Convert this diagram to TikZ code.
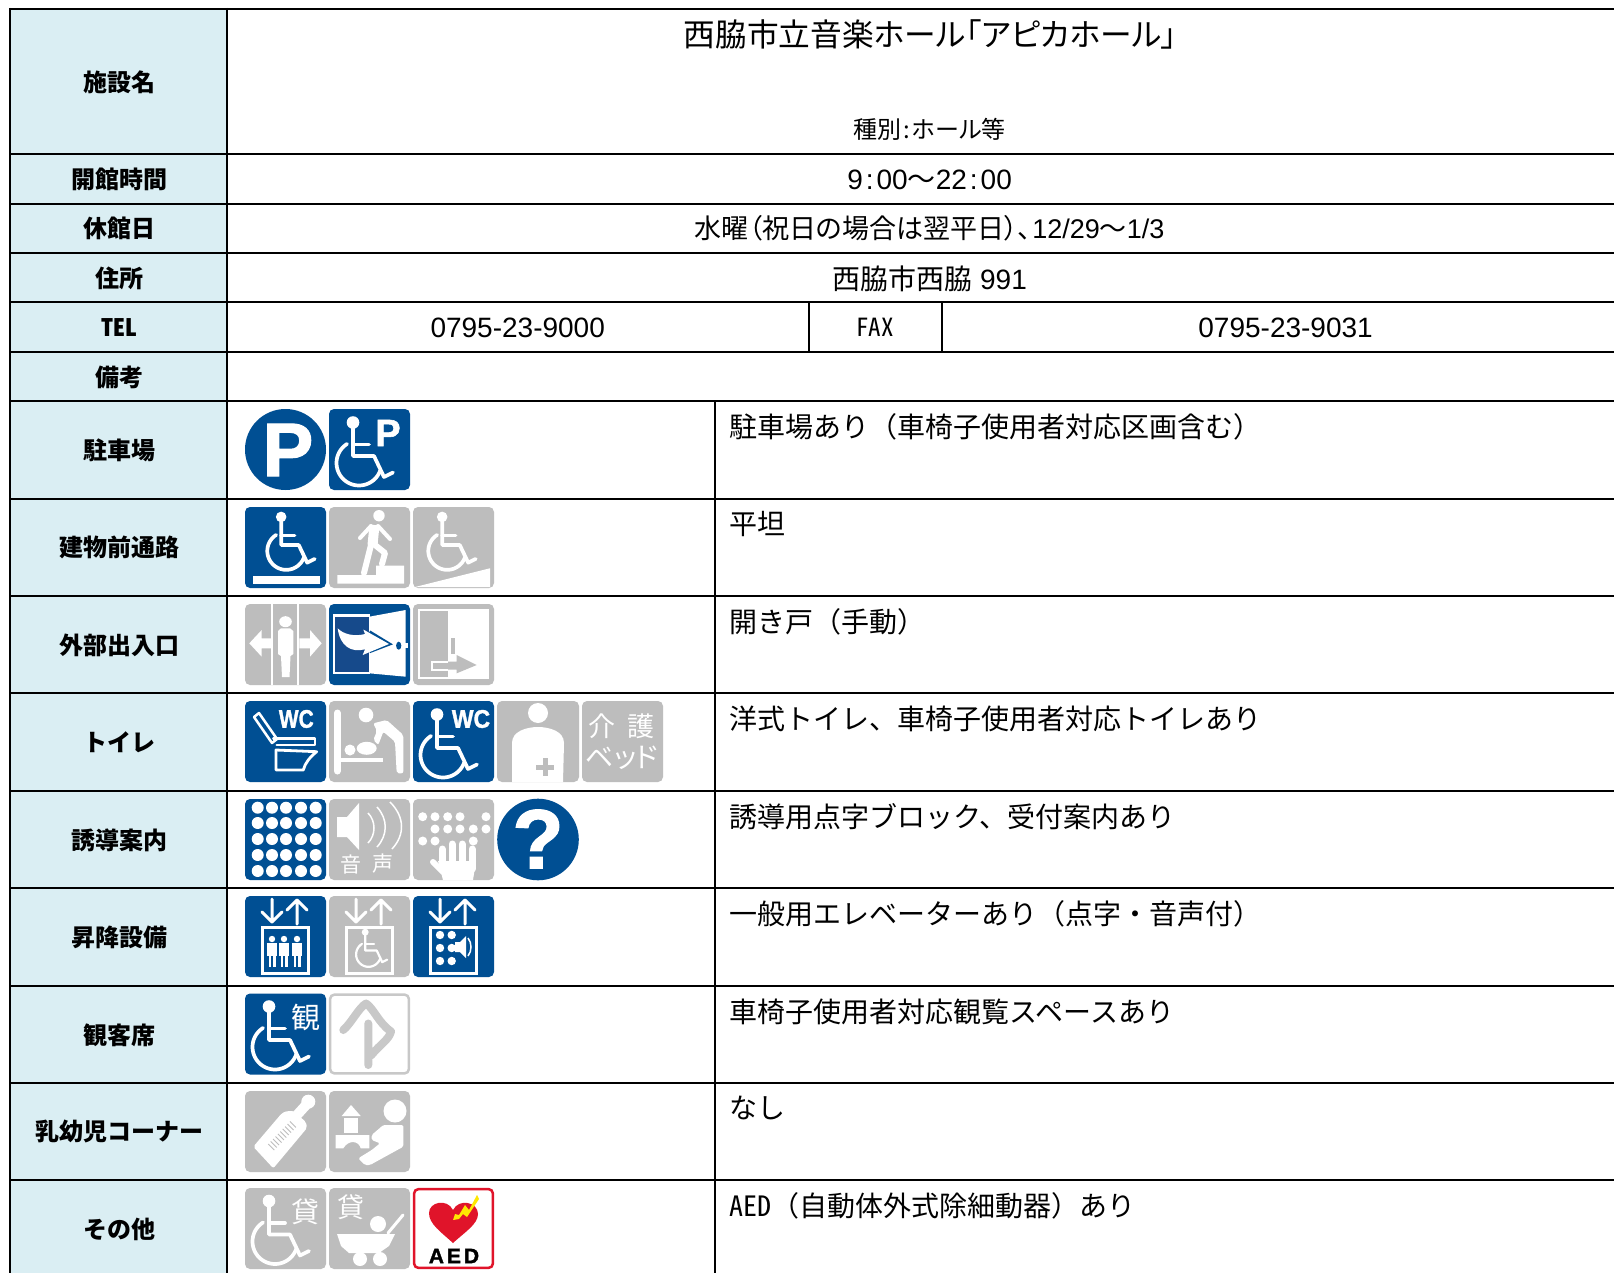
\documentclass[tikz,border=0pt]{standalone}
\usepackage{fontspec}
\usepackage{graphicx}
\setmainfont{Liberation Sans}
\newfontfamily\jp{Noto Sans CJK JP}
\newfontfamily\pjp[RawFeature=+palt]{Noto Sans CJK JP}
\newfontfamily\hjp[RawFeature=+hwid]{Noto Sans CJK JP}
\newfontfamily\hb[BoldFeatures={FakeBold=1.5}]{Liberation Sans}
\newcommand{\fz}[1]{\fontsize{#1}{#1}\selectfont}
\definecolor{iblue}{HTML}{004F93}
\definecolor{idark}{HTML}{164A8B}
\definecolor{igrey}{HTML}{BDBDBD}
\definecolor{ipale}{HTML}{C8C8C8}
\definecolor{cellbg}{HTML}{DAEEF3}
\definecolor{aedred}{HTML}{E0142A}
\tikzset{
  grid line/.style={line width=2pt,black},
  thin grid/.style={line width=1.2pt,black},
  lab/.style={inner sep=0pt,font=\jp\bfseries\fz{24}},
  val/.style={inner sep=0pt,font=\fz{28}},
  note/.style={inner sep=0pt,anchor=west,font=\jp\fz{28}},
  ink/.style={white,line width=3pt,line cap=round,line join=round},
  wtxt/.style={inner sep=0pt,text=white},
}
\newcommand{\ic}[3]{\begin{scope}[shift={(#1,#2)}]#3\end{scope}}
\newcommand{\bgb}{\fill[iblue,rounded corners=5pt] (0,0) rectangle (81,81);}
\newcommand{\bgg}{\fill[igrey,rounded corners=5pt] (0,0) rectangle (81,81);}
% wheelchair: dx dy scale linewidth
\newcommand{\wch}[4]{\begin{scope}[shift={(#1,#2)},scale=#3]
  \fill[white] (24,13) circle (6.3);
  \draw[ink,line width=#4pt] (24,13)--(24,46.5)--(45,46.5)--(55,67.5)--(64,63);
  \draw[ink,line width=#4pt] (24,35)--(40,35);
  \draw[ink,line width=#4pt] plot[domain=20:238,samples=40] ({30+22.5*cos(\x)},{53.5+22.5*sin(\x)});
\end{scope}}
\newcommand{\liftarrows}{
  \draw[ink,line width=3pt] (27,3)--(27,26) (17,16)--(27,26)--(37,16);
  \draw[ink,line width=3pt] (52,28)--(52,4) (42,14)--(52,4)--(62,14);
  \draw[white,line width=3pt] (17,31) rectangle (63,77);
}
\begin{document}
\begin{tikzpicture}[x=1pt,y=-1pt]
\useasboundingbox (0,0) rectangle (1614,1273);
\fill[white] (0,0) rectangle (1614,1273);
\fill[cellbg] (10,9) rectangle (227,1273);
% grid
\foreach \yy in {9,154,204,253,302,352,400.7,498.7,596,693,790.7,887.7,985.7,1082.7,1180}
  \draw[grid line] (9,\yy)--(1614,\yy);
\draw[grid line] (10,8)--(10,1273);
\draw[grid line] (227,8)--(227,1273);
\draw[grid line] (715,400.7)--(715,1273);
\draw[thin grid] (809,302)--(809,352);
\draw[thin grid] (942,302)--(942,352);
% left labels
\node[lab] (l1) at (119,82) {施設名};
\node[lab] (l2) at (119,179.5) {開館時間};
\node[lab] (l3) at (119,228.5) {休館日};
\node[lab] (l4) at (119,278.5) {住所};
\node[lab] (l5) at (119,327.5) {\hjp TEL};
\node[lab] (l6) at (119,377) {備考};
\node[lab] (l7) at (119,450) {駐車場};
\node[lab] (l8) at (119,547.5) {建物前通路};
\node[lab] (l9) at (119,645.5) {外部出入口};
\node[lab] (l10) at (119,742.5) {トイレ};
\node[lab] (l11) at (119,840) {誘導案内};
\node[lab] (l12) at (119,937.5) {昇降設備};
\node[lab] (l13) at (119,1035) {観客席};
\node[lab] (l14) at (119,1131.5) {乳幼児コーナー};
\node[lab] (l15) at (119,1229.5) {その他};
% top values
\node[inner sep=0pt] (v1) at (930.5,34) {\pjp\fz{31.7}西脇市立音楽ホール「アピカホール」};
\node[inner sep=0pt] (v1b) at (929.6,129.5) {\pjp\fz{24}種別\kern2pt:\kern2pt ホール等};
\node[val] (v2) at (929.6,179.5) {9\kern3pt:\kern3pt 00{\jp ～}22\kern3pt:\kern3pt 00};
\node[val] (v3) at (929.6,228.5) {\pjp\fz{27}水曜（祝日の場合は翌平日）、\kern1pt{\fontspec{Liberation Sans}12/29}～{\fontspec{Liberation Sans}1/3}};
\node[val] (v4) at (929.6,279) {{\pjp 西脇市西脇} 991};
\node[val] (v5) at (517.7,327.5) {0795-23-9000};
\node[inner sep=0pt] (v6) at (875,327) {\hjp\fz{25}FAX};
\node[val] (v7) at (1285.6,327.5) {0795-23-9031};
% notes
\node[note] (n1) at (729.5,426.5) {駐車場あり（車椅子使用者対応区画含む）};
\node[note] (n2) at (729.5,524) {平坦};
\node[note] (n3) at (729.5,621.5) {開き戸（手動）};
\node[note] (n4) at (729.5,718.5) {洋式トイレ、車椅子使用者対応トイレあり};
\node[note] (n5) at (729.5,816.5) {誘導用点字ブロック、受付案内あり};
\node[note] (n6) at (729.5,913.5) {一般用エレベーターあり（点字・音声付）};
\node[note] (n7) at (729.5,1011.5) {車椅子使用者対応観覧スペースあり};
\node[note] (n8) at (729.5,1108) {なし};
\node[note] (n9) at (729.5,1205.5) {{\hjp AED}（自動体外式除細動器）あり};
% ---------- row 1
\ic{245}{409}{\fill[iblue] (40.5,40.5) circle (40.5);
  \node[wtxt] (ip) at (43,41) {\hb\bfseries\fz{76}P};}
\ic{329}{409}{\bgb \wch{0}{0.5}{1}{3.7}
  \node[wtxt] (ip2) at (59,24) {\hb\bfseries\fz{38}P};}
% ---------- row 2
\ic{245}{507}{\bgb \wch{16}{-1}{.84}{3.7}
  \fill[white] (8,69) rectangle (75,76.5);}
\ic{329}{507}{\bgg
  \fill[white] (50,8.7) circle (5.7);
  \draw[ink,line width=10pt,line cap=butt] (45.5,18)--(43.5,38);
  \draw[ink,line width=6pt] (42,38)--(35,66);
  \draw[ink,line width=6pt] (46,38)--(56,46)--(53,57);
  \draw[ink,line width=4pt] (42,19)--(31,31) (49,19)--(61,32);
  \fill[white] (8.3,76.5)--(75,76.5)--(75,58.7)--(47,58.7)--(47,68)--(8.3,68)--cycle;}
\ic{413}{507}{\bgg \wch{9}{-1}{.84}{3.7}
  \fill[white] (2,80)--(77,80)--(77,61.3)--cycle;}
% ---------- row 3
\ic{245}{604}{\bgg
  \draw[white,line width=2pt] (27.3,0)--(27.3,81) (53.3,0)--(53.3,81);
  \fill[white] (40.5,17.7) ellipse (6.3 and 5.5);
  \fill[white] (33,27)--(36,24.3)--(45,24.3)--(48.3,27)--(48.3,50)--(45.5,52)--(44.5,73)--(37,73)--(36,52)--(33,50)--cycle;
  \fill[white] (4.3,39.3)--(16.7,26)--(16.7,34.3)--(27,34.3)--(27,44.3)--(16.7,44.3)--(16.7,52.7)--cycle;
  \fill[white] (76.7,39.3)--(65,26)--(65,34.3)--(54.3,34.3)--(54.3,44.3)--(65,44.3)--(65,52.7)--cycle;}
\ic{329}{604}{\bgb
  \fill[white] (4.3,10) rectangle (41,70);
  \fill[idark] (6,13) rectangle (40.3,68);
  \fill[white] (40.3,12.7)--(76.7,6)--(76.7,72.7)--(40.3,69.3)--cycle;
  \fill[iblue] (69.7,41.7) ellipse (2.6 and 4);
  \fill[white] (76,39) rectangle (79,44);
  \draw[iblue,line width=3.5pt,line join=miter] (40.3,28)--(60,40)--(40.3,47.5);
  \fill[white] (8.7,24.3) .. controls (14,30) and (25,33) .. (36,30) --(34.3,25.5)--(60,40)--(33.7,51)--(36,45.3) .. controls (22,49) and (11,42) .. cycle;}
\ic{413}{604}{\bgg
  \draw[white,line width=2pt] (6.3,6) rectangle (75.3,74.3);
  \fill[white] (35.3,6) rectangle (75.3,74.3);
  \fill[igrey] (38.3,34.3) rectangle (42.3,50);
  \fill[igrey] (35,57.7)--(43.7,57.7)--(43.7,51)--(63.7,61)--(43.7,69.3)--(43.7,65.5)--(35,65.5)--cycle;
  \draw[white,line width=2pt] (35.3,57.7)--(18.7,57.7)--(18.7,65.5)--(35.3,65.5);}
% ---------- row 4
\ic{245}{701}{\bgb
  \draw[ink,line width=2.5pt] (9,16)--(14,12)--(32,38)--(27,42)--cycle;
  \draw[ink,line width=2.5pt] (28.3,37.3)--(70,37.3)--(70,44)--(31.7,44);
  \draw[ink,line width=2.8pt] (31,49)--(71.7,50.7) .. controls (65,56) and (60,62) .. (58.3,69)--(31,69)--cycle;
  \node[wtxt] (wc1) at (51.3,18) {\scalebox{.82}[1]{\hb\bfseries\fz{25.5}WC}};}
\ic{329}{701}{\bgg
  \draw[ink,line width=7pt] (8.3,12)--(8.3,70);
  \fill[white] (8.3,57) rectangle (54.3,61);
  \fill[white] (37,14) circle (7.3);
  \fill[white,rounded corners=2pt] (44.3,22.3)--(57.7,19)--(74.3,34)--(74.3,72.3)--(67.7,72.3)--(66,40.7)--(54.3,30.7)--(49.3,44)--(44.3,39)--(48,30)--cycle;
  \fill[white] (21,49) circle (5.5);
  \fill[white] (37.7,47.3) ellipse (10 and 6.5);}
\ic{413}{701}{\bgb \wch{0}{0.5}{1}{3.7}
  \node[wtxt] (wc2) at (58,18) {\scalebox{.9}[1]{\hb\bfseries\fz{25.5}WC}};}
\ic{497}{701}{\fill[igrey,rounded corners=5pt] (0,0) rectangle (82,81);
  \fill[white] (41,12) circle (10);
  \fill[white] (15,81)--(15,42) .. controls (15,30) and (30,26) .. (41,26) .. controls (52,26) and (67,30) .. (67,42)--(66,81)--cycle;
  \draw[igrey,line width=5pt] (48,57)--(48,75) (39,66)--(57,66);}
\ic{582}{701}{\bgg
  \node[wtxt] (kai) at (20,25) {\jp\fz{27}介};
  \node[wtxt] (go) at (59,25) {\jp\fz{27}護};
  \node[wtxt] (bed) at (40,57) {\pjp\fz{28}ベッド};}
% ---------- row 5
\ic{245}{799}{\bgb
  \foreach \dx in {12.7,27,41,56,70.7}
    \foreach \dy in {8.7,24,40,56,72}
      \fill[white] (\dx,\dy) circle (6);}
\ic{329}{799}{\bgg
  \fill[white] (8,18)--(18,18)--(30,4)--(30,51)--(18,38)--(8,38)--cycle;
  \draw[white,line width=1.5pt] (39,14) .. controls (47,22) and (47,36) .. (39,44)
     (48,8) .. controls (59,20) and (59,36) .. (48,48)
     (61,3) .. controls (76,18) and (76,36) .. (63,50);
  \node[wtxt] (on) at (22,66) {\jp\fz{21}音};
  \node[wtxt] (se) at (54,65) {\jp\fz{21}声};}
\ic{413}{799}{\bgg
  \foreach \dx/\dy in {9.7/17.7,22/17.7,34.7/17.7,47/17.7,73/17.7,22/30,34.7/30,47/30,60.3/30,73/30,9.7/42,22/42,60.3/42}
    \fill[white] (\dx,\dy) circle (4.5);
  \draw[ink,line width=7pt] (29,70)--(29,50) (39,70)--(39,45) (49,70)--(49,45) (59,70)--(59,50);
  \fill[white] (25,62)--(63,62)--(60,81)--(30,81)--cycle;
  \draw[ink,line width=6pt] (20,63)--(30,73);}
\ic{497}{799}{\fill[iblue] (41,40.5) circle (40.8);
  \node[wtxt] (q) at (41,40) {\hb\bfseries\fz{84}?};}
% ---------- row 6
\ic{245}{896}{\bgb \liftarrows
  \foreach \dx in {27,39,52}{
    \fill[white] (\dx,43) circle (3.2);
    \fill[white] (\dx-5,47) rectangle (\dx+5,60);
    \fill[white] (\dx-3.5,58) rectangle (\dx-.6,71);
    \fill[white] (\dx+.6,58) rectangle (\dx+3.5,71);}}
\ic{329}{896}{\bgg \liftarrows \wch{23}{29}{.55}{2.2}}
\ic{413}{896}{\bgb \liftarrows
  \foreach \dx/\dy in {27/39,38.7/39,27/52,38.7/52,27/65,38.7/65}
    \fill[white] (\dx,\dy) circle (4.2);
  \fill[white] (42,46)--(47,46)--(53,40)--(53,62)--(47,56)--(42,56)--cycle;
  \draw[white,line width=1.5pt] (55,42) .. controls (59,47) and (59,55) .. (55,60);}
% ---------- row 7
\ic{245}{993.5}{\bgb \wch{0}{0}{1}{3.7}
  \node[wtxt] (kan) at (61,24) {\jp\fz{29}観};}
\ic{329}{993.5}{\draw[ipale,line width=2.5pt,rounded corners=4pt,fill=white] (1.2,1.2) rectangle (79.8,79.8);
  \draw[ipale,line width=8pt,line cap=round,line join=round] (39.3,71.5)--(39.3,30)
    (14.3,36.5) .. controls (22,30) and (30,14) .. (37,10) .. controls (44,14) and (50,30) .. (62,38) .. controls (60,46) and (52,50) .. (42,62);}
% ---------- row 8
\ic{245}{1091}{\bgg
  \fill[white,rounded corners=2pt] (8.3,55.7)--(28.3,77.3)--(62,37)--(61,31)--(54,25)--(49,20)--(42,20)--(37,22)--cycle;
  \draw[white,line width=10pt,line cap=round] (52,24)--(62,13);
  \fill[white] (63.3,10.7) circle (7);
  \foreach \k in {0,...,9}
    \draw[igrey,line width=.9pt] ({23.3+2.4*\k},{53-2.5*\k})--({29.3+2.4*\k},{59-2.5*\k});}
\ic{329}{1091}{\bgg
  \fill[white] (66,20) circle (11.5);
  \fill[white] (12.7,25)--(22,14)--(31.7,25)--cycle;
  \fill[white] (15,27.3) rectangle (29.3,42.3);
  \fill[white] (6.7,44)--(40.3,44)--(40.3,57.3)--(31.7,57.3) .. controls (30,50) and (20,48) .. (14.3,57.3)--(6.7,57.3)--cycle;
  \fill[white,rounded corners=1.5pt] (42.7,44)--(54.3,34)--(74.3,34)--(74.3,55.7)--(41,74)--(36,74)--(29.3,67.3)--(42.7,59)--(51,52.3)--(42.7,49)--cycle;}
% ---------- row 9
\ic{245}{1188}{\bgg \wch{0}{0}{1}{3.7}
  \node[wtxt] (kas1) at (60,24) {\jp\fz{28}貸};}
\ic{329}{1188}{\bgg
  \node[wtxt] (kas2) at (22,19) {\jp\fz{27}貸};
  \fill[white] (49,36) circle (8);
  \draw[ink,line width=3pt] (59,45)--(74,27);
  \fill[white] (8,46)--(66,46)--(60,58)--(50,65)--(20,65)--(12,58)--cycle;
  \fill[white] (31,71) circle (7);
  \fill[white] (51,71) circle (7);}
\ic{413}{1188}{\draw[aedred,line width=2.5pt,rounded corners=4pt,fill=white] (1.2,1.2) rectangle (79.8,79.8);
  \fill[aedred] (40,55) .. controls (28,44) and (16,36) .. (16,25) .. controls (16,14) and (34,10) .. (40,22)
     .. controls (46,10) and (65,14) .. (65,26) .. controls (65,36) and (52,44) .. (40,55)--cycle;
  \fill[yellow!90!orange] (64,7)--(56,22)--(52,17)--(46,27)--(42,26)--(40,32)--(46,31)--(50,26)--(54,29)--(66,11)--cycle;
  \node[inner sep=0pt] (aed) at (41,68) {\hb\bfseries\fz{21}A\kern3pt E\kern3pt D};}
\end{tikzpicture}
\end{document}
